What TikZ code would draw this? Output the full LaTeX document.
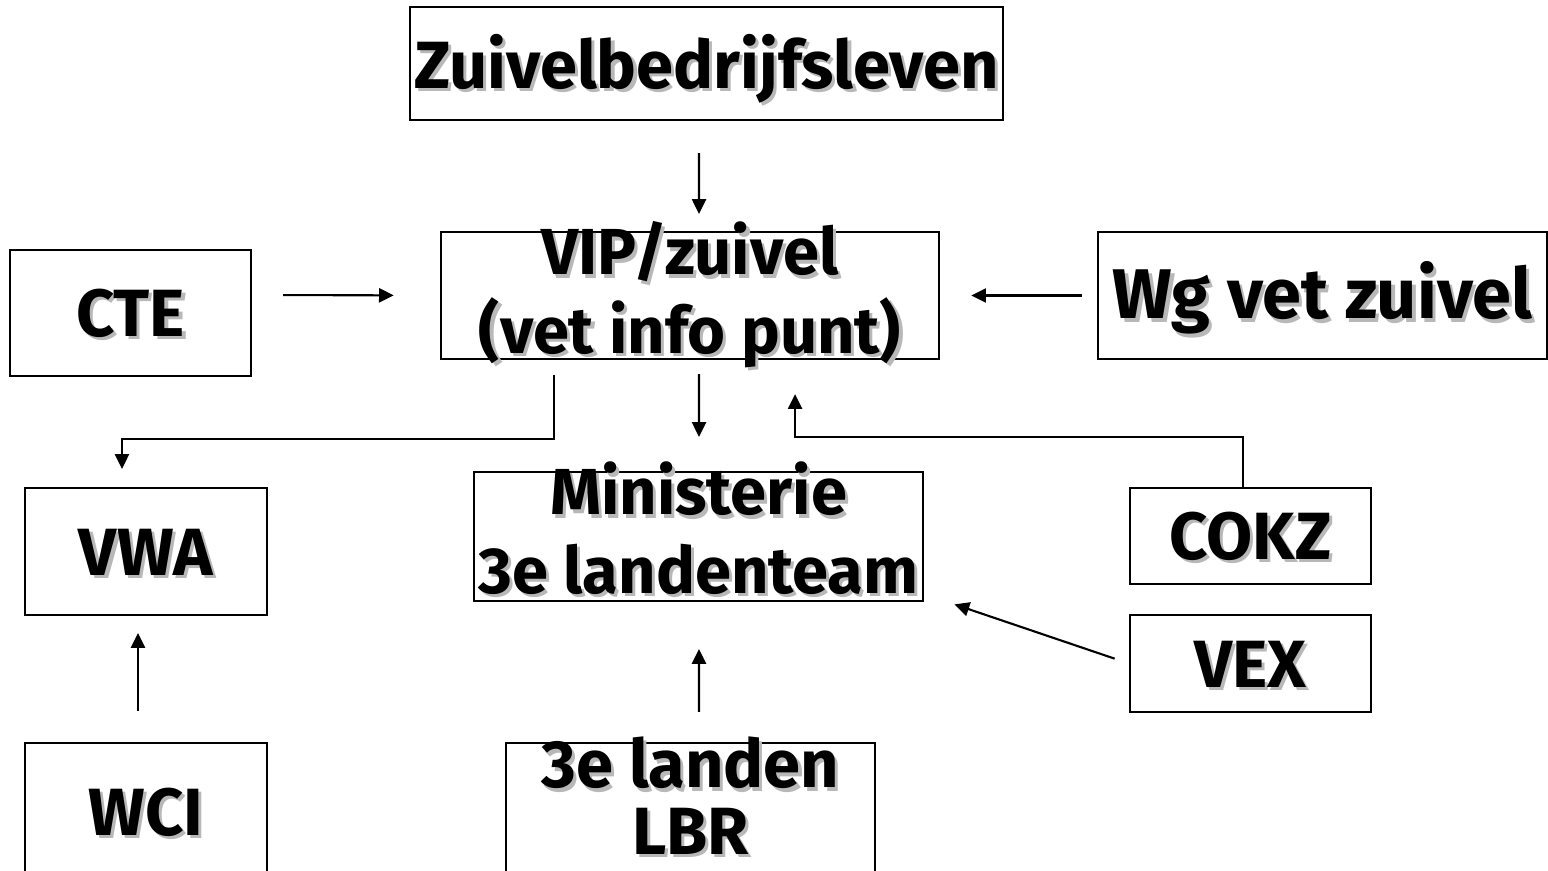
\documentclass[tikz,border=0pt]{standalone}
\usepackage{fontspec}
\setmainfont{Fira Sans}
\usepackage{tikz}
\usetikzlibrary{arrows.meta, positioning, calc}
\newcommand{\shtxt}[1]{\leavevmode\rlap{\kern0.9pt\raisebox{-0.9pt}{\textcolor{black!28}{#1}}}#1}
\tikzset{
    block/.style={rectangle, draw, line width=0.6pt, inner sep=0pt, align=center,
        text height=0.47cm, text depth=0pt, font=\bfseries\fontsize{19pt}{22pt}\selectfont},
    twoline/.style={font=\bfseries\fontsize{18.5pt}{0.78cm}\selectfont},
    arrow/.style={line width=0.6pt, -{Triangle[length=4.2pt, width=4pt]}}
}
\begin{document}
\begin{tikzpicture}[x=0.01cm, y=-0.01cm]
            \useasboundingbox (0,0) rectangle (1548,871);
            \node[block, minimum width=5.93cm, minimum height=1.13cm, text height=0.50cm] (zuivel) at (706.5,63.5) {\shtxt{Zuivelbedrijfsleven}};
            \node[block, twoline, minimum width=4.98cm, text height=1.21cm, text depth=0.06cm] (vip) at (690,295.5) {\shtxt{VIP/zuivel}\\\shtxt{(vet info punt)}};
            \node[block, minimum width=2.41cm, minimum height=1.26cm] (cte) at (130.5,313) {\shtxt{CTE}};
            \node[block, minimum width=4.49cm, minimum height=1.27cm, font=\bfseries\fontsize{20pt}{24pt}\selectfont] (wg) at (1322.5,295.5) {\shtxt{Wg vet zuivel}};
            \node[block, minimum width=2.42cm, minimum height=1.27cm] (vwa) at (146,551.5) {\shtxt{VWA}};
            \node[block, twoline, minimum width=4.49cm, text height=1.21cm, text depth=0.08cm] (ministerie) at (698.5,536.5) {\shtxt{Ministerie}\\\shtxt{3e landenteam}};
            \node[block, minimum width=2.41cm, minimum height=0.96cm] (cokz) at (1250.5,536) {\shtxt{COKZ}};
            \node[block, minimum width=2.41cm, minimum height=0.97cm] (vex) at (1250.5,663.5) {\shtxt{VEX}};
            \node[block, minimum width=2.42cm, minimum height=1.37cm] (wci) at (146,811.5) {\shtxt{WCI}};
            \node[block, twoline, minimum width=3.69cm, text height=1.11cm, text depth=0.26cm,
                font=\bfseries\fontsize{19pt}{0.66cm}\selectfont] (lbr) at (690.5,811.5) {\shtxt{3e landen}\\\shtxt{LBR}};

            \draw[arrow, shorten <=0.32cm, shorten >=0.17cm] ([xshift=-0.075cm]zuivel.south) -- ([xshift=0.09cm]vip.north);
            \draw[arrow, shorten <=0.31cm, shorten >=0.46cm] ([yshift=0.18cm]cte.east) -- (vip.west);
            \draw[arrow, shorten <=0.15cm, shorten >=0.31cm] (wg.west) -- (vip.east);
            \draw[arrow, shorten >=0.18cm] ([xshift=-1.36cm, yshift=-0.15cm]vip.south) -- ++(0,64) -| ([xshift=-0.24cm]vwa.north);
            \draw[arrow, shorten <=0.14cm, shorten >=0.34cm] ([xshift=0.09cm]vip.south) -- ([xshift=0.005cm]ministerie.north);
            \draw[arrow, shorten >=0.34cm] ([xshift=-0.075cm]cokz.north) -- ++(0,-50) -| ([xshift=1.05cm]vip.south);
            \draw[arrow, shorten <=0.15cm, shorten >=0.32cm] (vex.west) -- ([yshift=0.08cm]ministerie.south east);
            \draw[arrow, shorten <=0.30cm, shorten >=0.47cm] ([xshift=0.085cm]lbr.north) -- ([xshift=0.005cm]ministerie.south);
            \draw[arrow, shorten <=0.31cm, shorten >=0.17cm] ([xshift=-0.08cm]wci.north) -- ([xshift=-0.08cm]vwa.south);
        \end{tikzpicture}
\end{document}
